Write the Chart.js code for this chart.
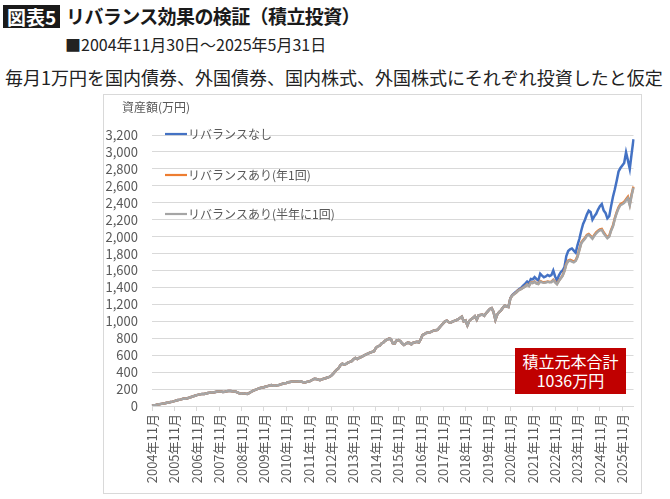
<!DOCTYPE html>
<html><head><meta charset="utf-8">
<script src="https://cdn.jsdelivr.net/npm/chart.js@4/dist/chart.umd.min.js"></script>
<style>
html,body{margin:0;padding:0;background:#fff;width:670px;height:499px;overflow:hidden;font-family:"Noto Sans CJK JP",sans-serif;}
.abs{position:absolute;white-space:nowrap;}
#badge{left:3px;top:5px;width:57px;height:23px;background:#1a1a1a;color:#fff;font-weight:700;font-size:19px;line-height:23px;text-align:center;}
#title{left:66px;top:2px;font-size:19px;font-weight:700;line-height:28px;color:#1a1a1a;letter-spacing:-0.6px}
#sub{left:65px;top:33px;font-size:16px;line-height:22px;color:#222;}
#desc{left:5px;top:65px;font-size:18px;line-height:24px;color:#222;}
#frame{left:103px;top:94px;width:537px;height:398px;border:1px solid #d9d9d9;}
#ytitle{left:122px;top:99px;font-size:12px;color:#595959;line-height:16px}
#note{left:515px;top:348px;width:111px;height:46px;background:#c00000;color:#fff;font-size:16px;line-height:19px;text-align:center;padding-top:4px;box-sizing:border-box}
</style>
</head>
<body>
<div id="badge" class="abs">図表5</div>
<div id="title" class="abs">リバランス効果の検証（積立投資）</div>
<div id="sub" class="abs">■2004年11月30日～2025年5月31日</div>
<div id="desc" class="abs">毎月1万円を国内債券、外国債券、国内株式、外国株式にそれぞれ投資したと仮定</div>
<div id="frame" class="abs"><canvas id="c" width="537" height="398"></canvas></div>
<div id="ytitle" class="abs">資産額(万円)</div>
<div id="note" class="abs">積立元本合計<br>1036万円</div>
<script>
// ---- data ----
const seriesNames = ['リバランスなし', 'リバランスあり(年1回)', 'リバランスあり(半年に1回)'];
const startYear = 2004, startMonth = 11, monthCount = 259;
const months = [];
for (let i = 0; i < monthCount; i++) {
  const m = startMonth - 1 + i;
  months.push((startYear + Math.floor(m / 12)) + '年' + (m % 12 + 1) + '月');
}
// values in 万円, 2004年11月 .. (monthly); shared part where the three lines overlap
const sharedEarly = [
  4, 8, 12, 17, 21, 25, 29, 33, 38, 42, 47, 52,
  58, 64, 70, 75, 81, 88, 86, 92, 99, 106, 113, 121,
  128, 134, 139, 143, 141, 148, 153, 158, 163, 160, 166, 172,
  170, 172, 165, 168, 173, 177, 178, 174, 171, 168, 158, 148,
  146, 150, 146, 142, 152, 165, 178, 188, 196, 205, 212, 218,
  222, 230, 235, 243, 248, 240, 238, 245, 248, 255, 262, 268,
  272, 280, 284, 288, 290, 288, 290, 292, 289, 280, 278, 285,
  290, 296, 310, 322, 318, 312, 306, 314, 322, 328, 336, 344,
  356, 378, 405, 428, 448, 482, 500, 488, 498, 512, 520, 530,
  552, 568, 555, 568, 578, 590, 602, 612, 622, 632, 640, 648,
  688, 705, 712, 738, 750, 772, 784, 795, 790, 742, 738, 772,
  778, 768, 740, 722, 735, 748, 745, 728, 748, 752, 758, 750,
  790, 840, 850, 862, 868, 870, 880, 892, 895, 900, 925, 950,
  975, 1000, 1008, 990, 985, 995, 1005, 1012, 1025, 1040, 1055, 1000,
  1010, 952, 1005, 1025, 1040, 1060, 1020, 1070, 1075, 1080, 1065, 1095,
  1120, 1145, 1155, 1110, 1020, 1080, 1110, 1130, 1160, 1185, 1175, 1170
];
const lateNoRebalance = [
  1272, 1310, 1330, 1348, 1368, 1385, 1400, 1425, 1445, 1470, 1450, 1500,
  1495, 1522, 1500, 1482, 1562, 1540, 1521, 1530, 1548, 1535, 1545, 1600,
  1530, 1482, 1540, 1580, 1600, 1640, 1770, 1830, 1850, 1860, 1835, 1810,
  1900, 1975, 2070, 2150, 2200, 2260, 2306, 2290, 2200, 2240, 2270, 2320,
  2360, 2385, 2310, 2280, 2215, 2240, 2360, 2470, 2560, 2660, 2770, 2810,
  2840, 2870, 2995, 2900, 2800, 2980, 3150
];
const lateAnnual = [
  1270, 1305, 1322, 1338, 1360, 1375, 1385, 1400, 1415, 1435, 1420, 1462,
  1455, 1470, 1450, 1443, 1475, 1465, 1460, 1463, 1470, 1465, 1468, 1490,
  1465, 1443, 1480, 1510, 1541, 1600, 1680, 1717, 1725, 1715, 1705, 1720,
  1770, 1850, 1930, 1960, 1985, 2020, 2031, 2010, 1985, 2020, 2050, 2070,
  2085, 2090, 2051, 2020, 1992, 2010, 2080, 2130, 2220, 2290, 2345, 2384,
  2395, 2410, 2440, 2470, 2385, 2500, 2590
];
const lateSemiAnnual = [
  1268, 1303, 1320, 1336, 1357, 1372, 1382, 1398, 1412, 1432, 1416, 1458,
  1450, 1466, 1446, 1440, 1470, 1460, 1455, 1458, 1466, 1460, 1462, 1485,
  1460, 1438, 1475, 1505, 1535, 1592, 1672, 1708, 1716, 1706, 1696, 1712,
  1760, 1840, 1920, 1950, 1975, 2010, 2022, 2000, 1975, 2010, 2040, 2060,
  2075, 2080, 2040, 2010, 1982, 2000, 2070, 2120, 2210, 2280, 2335, 2372,
  2382, 2398, 2428, 2455, 2370, 2488, 2580
];
const noRebalance = sharedEarly.concat(lateNoRebalance);
const annual = sharedEarly.concat(lateAnnual);
const semiAnnual = sharedEarly.concat(lateSemiAnnual);
const yTicks = [0, 3200, 200]; // min, max, step
const colors = ['#4472c4', '#ed7d31', '#a5a5a5'];
const legendRows = [-1, 40, 79];

const FONT = '"Noto Sans CJK JP", sans-serif';
const legendPlugin = {
  id: 'inlineLegend',
  afterDraw(chart) {
    const { ctx, chartArea } = chart;
    ctx.save();
    ctx.font = '12px ' + FONT;
    ctx.textBaseline = 'middle';
    ctx.textAlign = 'left';
    chart.data.datasets.forEach((ds, i) => {
      const y = chartArea.top + legendRows[i];
      const x0 = chartArea.left + 13;
      ctx.strokeStyle = ds.borderColor;
      ctx.lineWidth = 2.2;
      ctx.beginPath(); ctx.moveTo(x0, y); ctx.lineTo(x0 + 22, y); ctx.stroke();
      ctx.fillStyle = '#595959';
      ctx.fillText(ds.label, x0 + 23, y);
    });
    ctx.restore();
  }
};

new Chart(document.getElementById('c'), {
  type: 'line',
  data: {
    labels: months,
    datasets: [
      { label: seriesNames[0], data: noRebalance, borderColor: colors[0], order: 3 },
      { label: seriesNames[1], data: annual, borderColor: colors[1], order: 2 },
      { label: seriesNames[2], data: semiAnnual, borderColor: colors[2], order: 1 }
    ]
  },
  options: {
    responsive: false,
    animation: false,
    layout: { padding: { top: 40, right: 4, left: 0, bottom: 0 } },
    elements: {
      line: { borderWidth: 2.5, tension: 0, fill: false },
      point: { radius: 0 }
    },
    plugins: { legend: { display: false }, tooltip: { enabled: false } },
    scales: {
      x: {
        type: 'category',
        offset: false,
        afterBuildTicks(s) { s.ticks = s.ticks.filter(t => t.value % 12 === 0); },
        afterFit(s) { s.height = 87; },
        grid: { display: true, drawOnChartArea: false, drawTicks: true, tickLength: 5, color: '#d9d9d9' },
        border: { display: true, color: '#d9d9d9' },
        ticks: {
          autoSkip: false, minRotation: 90, maxRotation: 90, padding: 3,
          color: '#595959', font: { family: FONT, size: 13 },
          callback(v) { return months[v]; }
        }
      },
      y: {
        min: yTicks[0], max: yTicks[1],
        afterFit(s) { s.width = 48; },
        grid: { color: '#d9d9d9', drawTicks: false },
        border: { display: false },
        ticks: {
          stepSize: yTicks[2], autoSkip: false, maxTicksLimit: 50, padding: 14, color: '#595959',
          font: { family: FONT, size: 13 },
          callback(v) { return v.toLocaleString('en-US'); }
        }
      }
    }
  },
  plugins: [legendPlugin]
});
</script>
</body></html>
